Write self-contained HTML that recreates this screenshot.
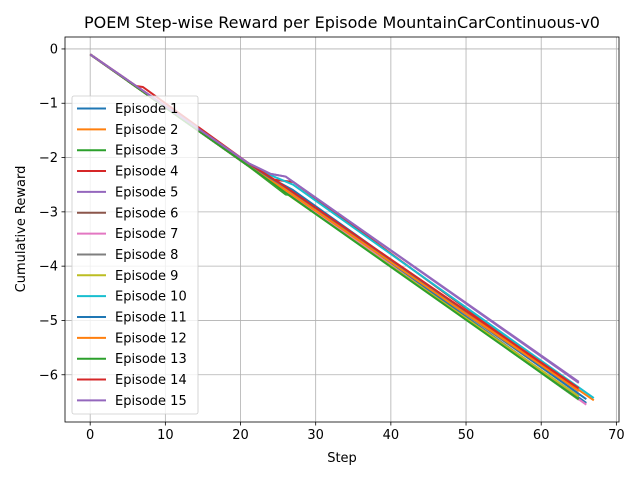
<!DOCTYPE html>
<html><head><meta charset="utf-8"><style>
body{margin:0;background:#fff;}
svg{display:block;font-family:"DejaVu Sans","Liberation Sans",sans-serif;}
</style></head><body>
<svg id="chart" width="640" height="480" viewBox="0 0 640 480">
<rect width="640" height="480" fill="#fff"/>
<text x="342" y="28" font-size="16" text-anchor="middle" fill="#000">POEM Step-wise Reward per Episode MountainCarContinuous-v0</text>
<g id="grid"></g>
<g id="series"></g>
<g id="axes"></g>
<g id="legend"></g>
<text x="342" y="462" font-size="13" text-anchor="middle">Step</text>
<text x="25" y="229" font-size="13" text-anchor="middle" transform="rotate(-90 25 229)">Cumulative Reward</text>
</svg>
<script>
const xTicks=[0,10,20,30,40,50,60,70];
const yTicks=[0,-1,-2,-3,-4,-5,-6];
const episodeNames=["Episode 1","Episode 2","Episode 3","Episode 4","Episode 5","Episode 6","Episode 7","Episode 8","Episode 9","Episode 10","Episode 11","Episode 12","Episode 13","Episode 14","Episode 15"];
const colors=["#1f77b4","#ff7f0e","#2ca02c","#d62728","#9467bd","#8c564b","#e377c2","#7f7f7f","#bcbd22","#17becf","#1f77b4","#ff7f0e","#2ca02c","#d62728","#9467bd"];
const ep1=[[0,-0.1],[21,-2.15],[26,-2.55],[66,-6.52]];
const ep2=[[0,-0.1],[21,-2.15],[25,-2.5],[67,-6.47]];
const ep3=[[0,-0.1],[21,-2.15],[26,-2.68],[27,-2.7],[65,-6.46]];
const ep4=[[0,-0.1],[6,-0.68],[7,-0.7],[21,-2.1],[24,-2.4],[27,-2.45],[65,-6.3]];
const ep5=[[0,-0.1],[21,-2.1],[24,-2.3],[26,-2.35],[65,-6.13]];
const ep6=[[0,-0.1],[21,-2.15],[25,-2.55],[65,-6.4]];
const ep7=[[0,-0.1],[21,-2.15],[26,-2.6],[66,-6.55]];
const ep8=[[0,-0.1],[21,-2.15],[26,-2.55],[65,-6.35]];
const ep9=[[0,-0.1],[21,-2.15],[27,-2.75],[65,-6.4]];
const ep10=[[0,-0.1],[21,-2.15],[27,-2.5],[67,-6.43]];
const ep11=[[0,-0.1],[21,-2.15],[27,-2.6],[66,-6.45]];
const ep12=[[0,-0.1],[21,-2.15],[26,-2.6],[65,-6.3]];
const ep13=[[0,-0.1],[21,-2.15],[26,-2.65],[65,-6.45]];
const ep14=[[0,-0.1],[21,-2.1],[25,-2.45],[65,-6.25]];
const ep15=[[0,-0.1],[21,-2.1],[24,-2.3],[26,-2.35],[65,-6.15]];
const episodes=[ep1,ep2,ep3,ep4,ep5,ep6,ep7,ep8,ep9,ep10,ep11,ep12,ep13,ep14,ep15];

const L=65,R=619,T=37,B=422;
const xMin=-3.35,xMax=70.35,yMin=-6.87,yMax=0.22;
const sx=v=>L+(v-xMin)/(xMax-xMin)*(R-L);
const sy=v=>T+(yMax-v)/(yMax-yMin)*(B-T);
const NS="http://www.w3.org/2000/svg";
function mk(tag,attrs,parent){const e=document.createElementNS(NS,tag);for(const k in attrs)e.setAttribute(k,attrs[k]);parent.appendChild(e);return e;}
const grid=document.getElementById('grid'),axes=document.getElementById('axes'),series=document.getElementById('series'),legend=document.getElementById('legend');
xTicks.forEach(t=>{
  const x=sx(t);
  const g=mk('line',{x1:x,x2:x,y1:T,y2:B,stroke:'#b0b0b0','stroke-width':0.8},grid);
  
  
  mk('line',{x1:x,x2:x,y1:B,y2:B+3.5,stroke:'#000','stroke-width':0.8},axes);
  const tx=mk('text',{x:x,y:B+17,'font-size':13,'text-anchor':'middle'},axes);
  tx.textContent=t;
  
  
});
yTicks.forEach(t=>{
  const y=sy(t);
  const g=mk('line',{x1:L,x2:R,y1:y,y2:y,stroke:'#b0b0b0','stroke-width':0.8},grid);
  
  
  mk('line',{x1:L-3.5,x2:L,y1:y,y2:y,stroke:'#000','stroke-width':0.8},axes);
  const tx=mk('text',{x:L-7,y:y+4.5,'font-size':13,'text-anchor':'end'},axes);
  tx.textContent=t===0?'0':'\u2212'+Math.abs(t);
  
  
});
const fr=mk('rect',{x:L,y:T,width:R-L,height:B-T,fill:'none',stroke:'#000','stroke-width':0.8},axes);


episodes.forEach((pts,i)=>{
  const p=mk('polyline',{points:pts.map(d=>sx(d[0])+','+sy(d[1])).join(' '),fill:'none',stroke:colors[i],'stroke-width':2,'stroke-linejoin':'round'},series);
  
  
});
const lb=mk('rect',{x:72,y:96,width:126,height:318,rx:2,fill:'#fff','fill-opacity':0.8,stroke:'#ccc','stroke-width':0.8},legend);


episodeNames.forEach((n,i)=>{
  const y=108.5+i*20.85;
  const ln=mk('line',{x1:77,x2:106,y1:y,y2:y,stroke:colors[i],'stroke-width':2},legend);
  
  
  const tx=mk('text',{x:115,y:y+4.5,'font-size':13},legend);
  tx.textContent=n;
  
  
});
</script>
</body></html>
